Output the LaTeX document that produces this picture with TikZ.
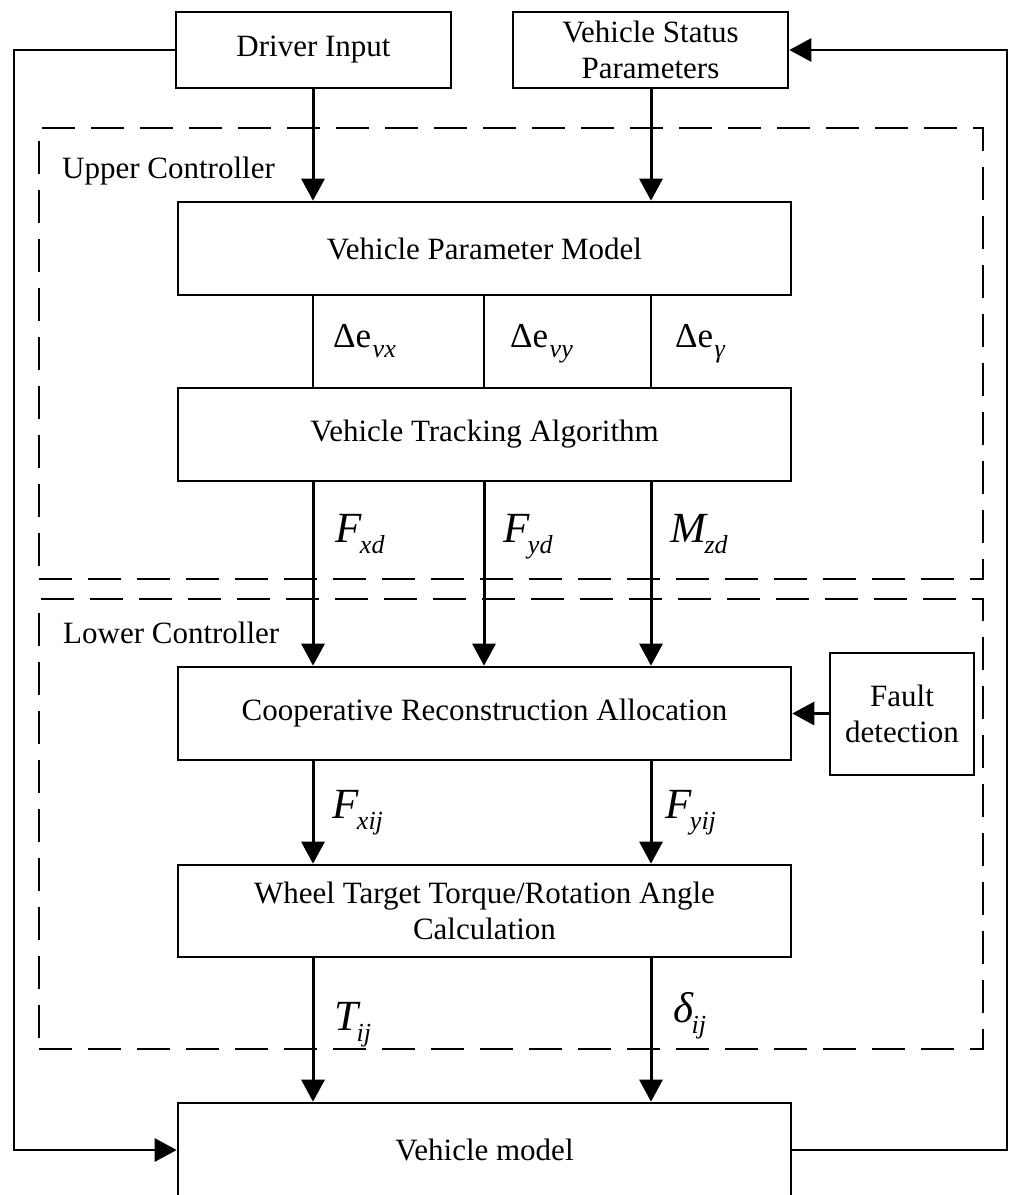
\documentclass[tikz,border=0pt]{standalone}
\usepackage{fontspec}
\setmainfont{Liberation Serif}
\usetikzlibrary{arrows.meta,calc}
\newcommand{\biglab}[2]{{\fontsize{43}{43}\selectfont\itshape #1}\kern-1.5pt\raisebox{-11pt}{\fontsize{26}{26}\selectfont\itshape #2}}
\newcommand{\dlab}[1]{{\fontsize{35}{35}\selectfont Δe}\kern1.5pt\raisebox{-10pt}{\fontsize{26}{26}\selectfont\itshape #1}}
\begin{document}
\begin{tikzpicture}[x=1pt,y=-1pt,
  box/.style={draw, line width=2.6pt, inner sep=0pt, align=center, font=\fontsize{31}{36.5}\selectfont},
  dbox/.style={draw, line width=2.2pt, dash pattern=on 33pt off 16pt, inner sep=0pt},
  arr/.style={line width=3pt, -{Triangle[length=22pt,width=23pt]}},
  ln/.style={line width=2.8pt},
  lab/.style={inner sep=0pt, anchor=base west},
  grp/.style={inner sep=0pt, anchor=base west, font=\fontsize{31}{36}\selectfont}]
\useasboundingbox (0,0) rectangle (1011,1195);
% group frames
\node[dbox, minimum width=944pt, minimum height=451pt] (upper) at (511,353.5) {};
\node[dbox, minimum width=944pt, minimum height=450pt] (lower) at (511,824) {};
\node[grp] (uplab) at (62,178) {Upper Controller};
\node[grp] (lowlab) at (63,643) {Lower Controller};
% boxes
\node[box, minimum width=275pt, minimum height=76pt] (drv) at (313.5,50) {Driver Input};
\node[box, minimum width=275pt, minimum height=76pt] (vsp) at (650.5,50) {Vehicle Status\\Parameters};
\node[box, minimum width=613pt, minimum height=93pt] (vpm) at (484.5,248.5) {Vehicle Parameter Model};
\node[box, minimum width=613pt, minimum height=93pt] (vta) at (484.5,434.5) {Vehicle Tracking Algorithm};
\node[box, minimum width=613pt, minimum height=93pt] (cra) at (484.5,713.5) {Cooperative Reconstruction Allocation};
\node[box, minimum width=144pt, minimum height=122pt] (fd) at (902,714) {Fault\\detection};
\node[box, minimum width=613pt, minimum height=92pt] (wtc) at (484.5,911) {Wheel Target Torque/Rotation Angle\\Calculation};
\node[box, minimum width=613pt, minimum height=94pt] (vm) at (484.5,1150) {Vehicle model};
% coordinates for loops
\coordinate (lt) at (14,50);
\coordinate (lb) at (14,1150);
\coordinate (rt) at (1007,50);
\coordinate (rb) at (1007,1150);
\coordinate (xl) at (313,0);
\coordinate (xm) at (484,0);
\coordinate (xr) at (651,0);
% connectors
\draw[arr] (drv.south -| xl) -- (vpm.north -| xl);
\draw[arr] (vsp.south -| xr) -- (vpm.north -| xr);
\draw[ln] (vpm.south -| xl) -- (vta.north -| xl);
\draw[ln] (vpm.south -| xm) -- (vta.north -| xm);
\draw[ln] (vpm.south -| xr) -- (vta.north -| xr);
\draw[arr] (vta.south -| xl) -- (cra.north -| xl);
\draw[arr] (vta.south -| xm) -- (cra.north -| xm);
\draw[arr] (vta.south -| xr) -- (cra.north -| xr);
\draw[arr] (fd.west |- cra.east) -- (cra.east);
\draw[arr] (cra.south -| xl) -- (wtc.north -| xl);
\draw[arr] (cra.south -| xr) -- (wtc.north -| xr);
\draw[arr] (wtc.south -| xl) -- (vm.north -| xl);
\draw[arr] (wtc.south -| xr) -- (vm.north -| xr);
\draw[arr, line width=2.8pt] (drv.west) -- (lt) -- (lb) -- (vm.west);
\draw[arr, line width=2.8pt] (vm.east) -- (rb) -- (rt) -- (vsp.east);
% signal labels
\node[lab] (l1) at (333,347) {\dlab{vx}};
\node[lab] (l2) at (510,347) {\dlab{vy}};
\node[lab] (l3) at (675,347) {\dlab{γ}};
\node[lab] (l4) at (335,542) {\biglab{F}{xd}};
\node[lab] (l5) at (503,542) {\biglab{F}{yd}};
\node[lab] (l6) at (670,542) {\biglab{M}{zd}};
\node[lab] (l7) at (332,818) {\biglab{F}{xij}};
\node[lab] (l8) at (665,818) {\biglab{F}{yij}};
\node[lab] (l9) at (334,1030) {\biglab{T}{ij}};
\node[lab] (l10) at (673,1022) {\biglab{δ}{ij}};
\end{tikzpicture}
\end{document}
